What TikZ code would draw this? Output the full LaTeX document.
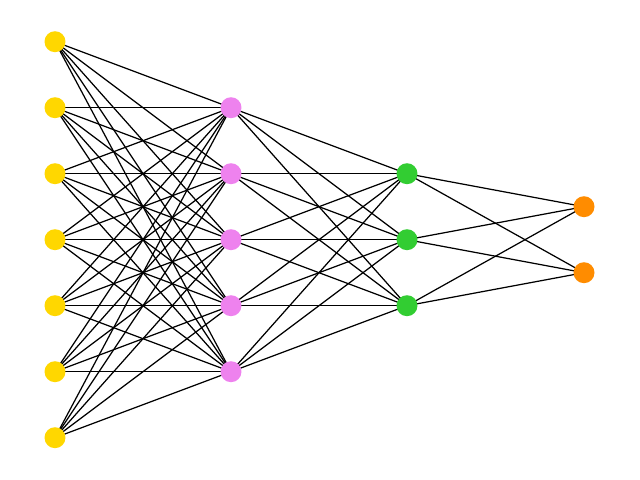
\documentclass[tikz,border=0pt]{standalone}
\usepackage{tikz}
\usetikzlibrary{backgrounds}
\tikzstyle{neuron} = [circle, inner sep=0pt, minimum size=0.42cm]
\tikzstyle{line} = [draw, line width=0.7pt]

\begin{document}
\begin{tikzpicture}[x=0.02cm, y=-0.02cm]
\useasboundingbox (0,-0.7) rectangle (640,479.3);
    % input layer
\node [neuron, fill={rgb,255:red,255;green,215;blue,0}] (i1) at (55,41) {};
\node [neuron, fill={rgb,255:red,255;green,215;blue,0}] (i2) at (55,107) {};
\node [neuron, fill={rgb,255:red,255;green,215;blue,0}] (i3) at (55,173) {};
\node [neuron, fill={rgb,255:red,255;green,215;blue,0}] (i4) at (55,239) {};
\node [neuron, fill={rgb,255:red,255;green,215;blue,0}] (i5) at (55,305) {};
\node [neuron, fill={rgb,255:red,255;green,215;blue,0}] (i6) at (55,371) {};
\node [neuron, fill={rgb,255:red,255;green,215;blue,0}] (i7) at (55,437) {};
    % first hidden layer
\node [neuron, fill={rgb,255:red,238;green,130;blue,238}] (h1) at (231,107) {};
\node [neuron, fill={rgb,255:red,238;green,130;blue,238}] (h2) at (231,173) {};
\node [neuron, fill={rgb,255:red,238;green,130;blue,238}] (h3) at (231,239) {};
\node [neuron, fill={rgb,255:red,238;green,130;blue,238}] (h4) at (231,305) {};
\node [neuron, fill={rgb,255:red,238;green,130;blue,238}] (h5) at (231,371) {};
    % second hidden layer
\node [neuron, fill={rgb,255:red,50;green,205;blue,50}] (g1) at (407,173) {};
\node [neuron, fill={rgb,255:red,50;green,205;blue,50}] (g2) at (407,239) {};
\node [neuron, fill={rgb,255:red,50;green,205;blue,50}] (g3) at (407,305) {};
    % output layer
\node [neuron, fill={rgb,255:red,255;green,140;blue,0}] (o1) at (584,206) {};
\node [neuron, fill={rgb,255:red,255;green,140;blue,0}] (o2) at (584,272) {};

%edges
\begin{pgfonlayer}{background}
\foreach \a in {1,...,7}
  \foreach \b in {1,...,5}
    \path [line] (i\a.center) -- (h\b.center);
\foreach \a in {1,...,5}
  \foreach \b in {1,...,3}
    \path [line] (h\a.center) -- (g\b.center);
\foreach \a in {1,...,3}
  \foreach \b in {1,2}
    \path [line] (g\a.center) -- (o\b.center);
\end{pgfonlayer}
\end{tikzpicture}
\end{document}
